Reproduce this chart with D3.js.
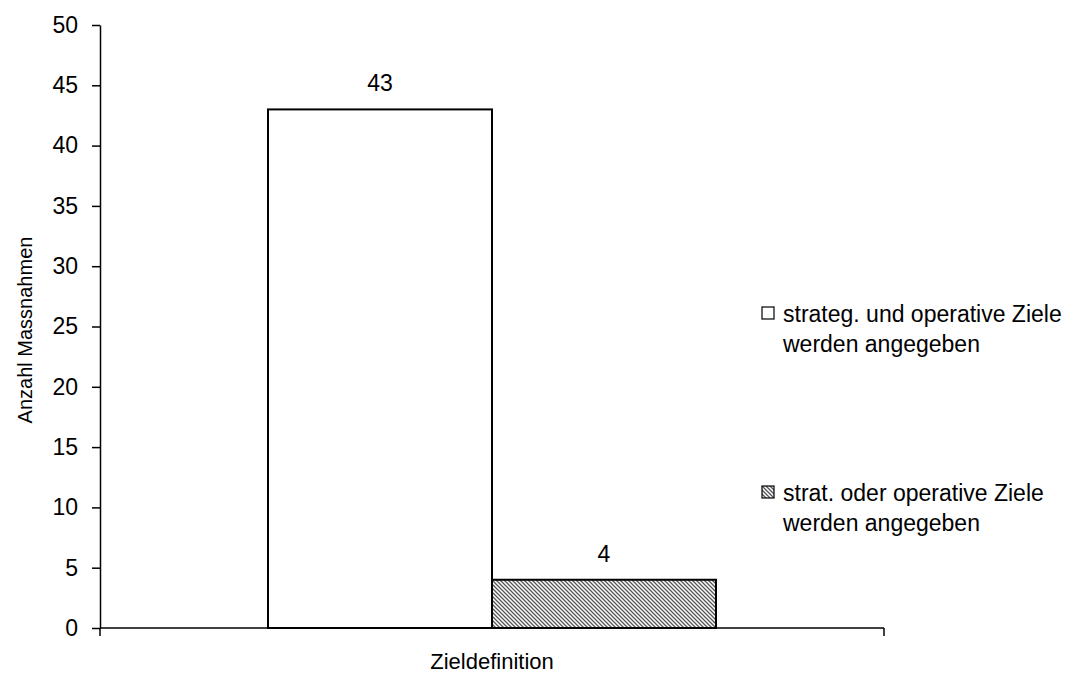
<!DOCTYPE html>
<html>
<head>
<meta charset="utf-8">
<script src="https://cdn.jsdelivr.net/npm/d3@7"></script>
<style>
  body { margin: 0; background: #fff; }
  text { font-family: "Liberation Sans", Arial, sans-serif; fill: #000; }
</style>
</head>
<body>
<div id="chart"></div>
<script>
// Zieldefinition der Massnahmen - one category, two series
const categories = ["Zieldefinition"]
const seriesNames = [
  ["strateg. und operative Ziele", "werden angegeben"],
  ["strat. oder operative Ziele", "werden angegeben"]
]
const seriesValues = [43, 4]
const yTicks = [0, 5, 10, 15, 20, 25, 30, 35, 40, 45, 50]

const WIDTH = 1074
const HEIGHT = 675
const MARGIN = { TOP: 25, RIGHT: 190, BOTTOM: 47, LEFT: 100 }
const FONT = "23px"

const svg = d3.select("#chart")
  .append("svg")
  .attr("width", WIDTH)
  .attr("height", HEIGHT)

// hatch pattern for second series
const defs = svg.append("defs")
const pat = defs.append("pattern")
  .attr("id", "hatch")
  .attr("patternUnits", "userSpaceOnUse")
  .attr("width", 4)
  .attr("height", 4)
pat.append("rect").attr("width", 4).attr("height", 4).attr("fill", "#fff")
pat.append("path")
  .attr("d", "M-1,-1 L5,5 M-1,3 L1,5 M3,-1 L5,1")
  .attr("stroke", "#555")
  .attr("stroke-width", 1.3)

const x = d3.scaleBand()
  .domain(categories)
  .range([MARGIN.LEFT, WIDTH - MARGIN.RIGHT])
  .paddingInner(0)
  .paddingOuter(0.375)

const xSeries = d3.scaleBand()
  .domain(d3.range(seriesValues.length))
  .range([0, x.bandwidth()])

const y = d3.scaleLinear()
  .domain([0, 50])
  .range([HEIGHT - MARGIN.BOTTOM, MARGIN.TOP])

// bars
const bars = svg.append("g")
bars.selectAll("rect")
  .data(seriesValues)
  .join("rect")
    .attr("x", (d, i) => x(categories[0]) + xSeries(i))
    .attr("y", d => y(d))
    .attr("width", xSeries.bandwidth())
    .attr("height", d => y(0) - y(d))
    .attr("fill", (d, i) => i === 0 ? "#fff" : "url(#hatch)")
    .attr("stroke", "#000")
    .attr("stroke-width", 2)

// value labels
bars.selectAll("text")
  .data(seriesValues)
  .join("text")
    .attr("x", (d, i) => x(categories[0]) + xSeries(i) + xSeries.bandwidth() / 2)
    .attr("y", d => y(d) - 18)
    .attr("text-anchor", "middle")
    .style("font-size", FONT)
    .text(d => d)

// y axis
const yAxis = svg.append("g")
  .attr("transform", `translate(${MARGIN.LEFT},0)`)
  .call(d3.axisLeft(y).tickValues(yTicks).tickSize(8).tickPadding(14).tickSizeOuter(0))
yAxis.select(".domain").attr("stroke", "#000").attr("stroke-width", 1.5)
yAxis.selectAll(".tick line").attr("stroke", "#000").attr("stroke-width", 1.5)
yAxis.selectAll(".tick text")
  .style("font-size", FONT)
  .style("font-family", "Liberation Sans, Arial, sans-serif")

// x axis (ticks at both ends)
const xAxisG = svg.append("g")
  .attr("transform", `translate(0,${y(0)})`)
xAxisG.append("line")
  .attr("x1", MARGIN.LEFT).attr("x2", WIDTH - MARGIN.RIGHT)
  .attr("stroke", "#000").attr("stroke-width", 1.5)
xAxisG.selectAll(".edge")
  .data(x.range())
  .join("line")
    .attr("class", "edge")
    .attr("x1", d => d).attr("x2", d => d)
    .attr("y1", 0).attr("y2", 8)
    .attr("stroke", "#000").attr("stroke-width", 1.5)
xAxisG.append("text")
  .attr("x", x(categories[0]) + x.bandwidth() / 2)
  .attr("y", 41)
  .attr("text-anchor", "middle")
  .style("font-size", "22px")
  .text(categories[0])

// y axis title
svg.append("text")
  .attr("transform", "translate(32,330) rotate(-90)")
  .attr("text-anchor", "middle")
  .style("font-size", "20px")
  .text("Anzahl Massnahmen")

// legend
const legend = svg.append("g").attr("transform", "translate(762,0)")
const legendY = [307, 486]
seriesNames.forEach((lines, i) => {
  const g = legend.append("g").attr("transform", `translate(0,${legendY[i]})`)
  g.append("rect")
    .attr("width", 12).attr("height", 12)
    .attr("fill", i === 0 ? "#fff" : "url(#hatch)")
    .attr("stroke", "#000").attr("stroke-width", 1.2)
  lines.forEach((t, j) => {
    g.append("text")
      .attr("x", 21)
      .attr("y", 15 + j * 30)
      .style("font-size", FONT)
      .text(t)
  })
})
</script>
</body>
</html>
